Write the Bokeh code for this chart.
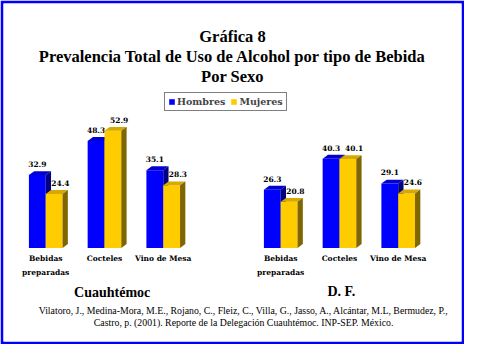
from bokeh.plotting import figure
from bokeh.models import Range1d, Legend, LegendItem
from bokeh.core.properties import value
from bokeh.embed import file_html
from bokeh.resources import INLINE

# ---------------- data ----------------
categories = ["Bebidas preparadas", "Cocteles", "Vino de Mesa"]
tick_labels = ["Bebidas\npreparadas", "Cocteles", "Vino de Mesa"]
regions = ["Cuauhtémoc", "D. F."]
series_names = ["Hombres", "Mujeres"]
hombres_cuauhtemoc = [32.9, 48.3, 35.1]
mujeres_cuauhtemoc = [24.4, 52.9, 28.3]
hombres_df = [26.3, 40.3, 29.1]
mujeres_df = [20.8, 40.1, 24.6]
title_lines = ["Gráfica 8",
               "Prevalencia Total de Uso de Alcohol por tipo de Bebida",
               "Por Sexo"]
citation_lines = [
    "Vilatoro, J., Medina-Mora,  M.E., Rojano, C., Fleiz, C., Villa, G., Jasso, A., Alcántar, M.L, Bermudez, P.,",
    "Castro, p. (2001). Reporte de la Delegación Cuauhtémoc. INP-SEP. México.",
]

# ---------------- layout / style ----------------
W, H = 464, 344
BORDER = 3
PX = 2.32          # reference pixels per unit
BASE = 259.0       # reference pixel of value 0
def yv(y_ref):
    return (BASE - y_ref) / PX

GROUP_START = [29.3, 272.5]
SPACING = 60.8
BW = 17.4
DX = 5.5
DY = 4.0 / PX

FRONT = ["#0000FF", "#FFCC00"]
TOP = ["#0000D0", "#D6A800"]
SIDE = ["#000080", "#806600"]
LABEL_DX = [0.0, 6.5]

SERIF = value("Liberation Serif")
SMALL = value("DejaVu Serif")

p = figure(width=W, height=H, output_backend="svg", toolbar_location=None,
           x_range=Range1d(BORDER, 480 - BORDER),
           y_range=Range1d(yv(360 - BORDER), yv(BORDER)),
           min_border=BORDER, border_fill_color="#0000FF",
           background_fill_color="white", outline_line_color=None)
p.axis.visible = False
p.grid.visible = False

series = [(hombres_cuauhtemoc, mujeres_cuauhtemoc), (hombres_df, mujeres_df)]
legend_renderers = []
for r, (hv, mv) in enumerate(series):
    for s, vals in enumerate((hv, mv)):
        lefts = [GROUP_START[r] + i * SPACING + s * BW for i in range(len(vals))]
        rights = [l + BW for l in lefts]
        front = p.quad(left=lefts, right=rights, bottom=[0] * len(vals), top=vals,
                       fill_color=FRONT[s], line_color=None)
        if r == 0:
            legend_renderers.append(front)
        top_xs = [[l, l + DX, rr + DX, rr] for l, rr in zip(lefts, rights)]
        top_ys = [[v, v + DY, v + DY, v] for v in vals]
        p.patches(top_xs, top_ys, fill_color=TOP[s], line_color=None)
        side_xs = [[rr, rr, rr + DX, rr + DX] for rr in rights]
        side_ys = [[0, v, v + DY, DY] for v in vals]
        p.patches(side_xs, side_ys, fill_color=SIDE[s], line_color=None)
        p.text(x=[l + BW / 2 + LABEL_DX[s] for l in lefts],
               y=[v + 11.5 / PX for v in vals],
               text=[f"{v:.1f}" for v in vals],
               text_align="center", text_baseline="middle",
               text_font=SMALL, text_font_style="bold",
               text_font_size="7.5px", text_color="black")
    centers = [GROUP_START[r] + i * SPACING + BW for i in range(len(categories))]
    p.text(x=centers, y=[yv(265)] * len(centers), text=tick_labels,
           text_align="center", text_baseline="top",
           text_font=SMALL, text_font_style="bold", text_font_size="7.5px",
           text_line_height=1.6, text_color="black")

# region names
p.text(x=[115.5, 352.7], y=[yv(306), yv(305)], text=regions,
       text_align="center", text_baseline="middle",
       text_font=SERIF, text_font_style="bold", text_font_size="14px",
       text_color="black")

# title
p.text(x=[240] * 3, y=[yv(37.7), yv(58.5), yv(79.3)], text=title_lines,
       text_align="center", text_baseline="middle",
       text_font=SERIF, text_font_style="bold", text_font_size="16.5px",
       text_color="black")

# citation
p.text(x=[253, 251.5], y=[yv(325), yv(337.5)], text=citation_lines,
       text_align="center", text_baseline="middle",
       text_font=SERIF, text_font_size="9.8px", text_color="black")

legend = Legend(items=[LegendItem(label=series_names[i], renderers=[legend_renderers[i]])
                       for i in range(2)],
                orientation="horizontal", location=(161, 230),
                border_line_color="black", border_line_width=1,
                background_fill_color="white", background_fill_alpha=1,
                padding=3, spacing=5, margin=0,
                glyph_width=7, glyph_height=7, label_standoff=2,
                label_text_font="DejaVu Serif", label_text_font_style="bold",
                label_text_font_size="9.5px", label_height=10)
p.add_layout(legend, "center")

open("out.html", "w").write(file_html(p, INLINE))
